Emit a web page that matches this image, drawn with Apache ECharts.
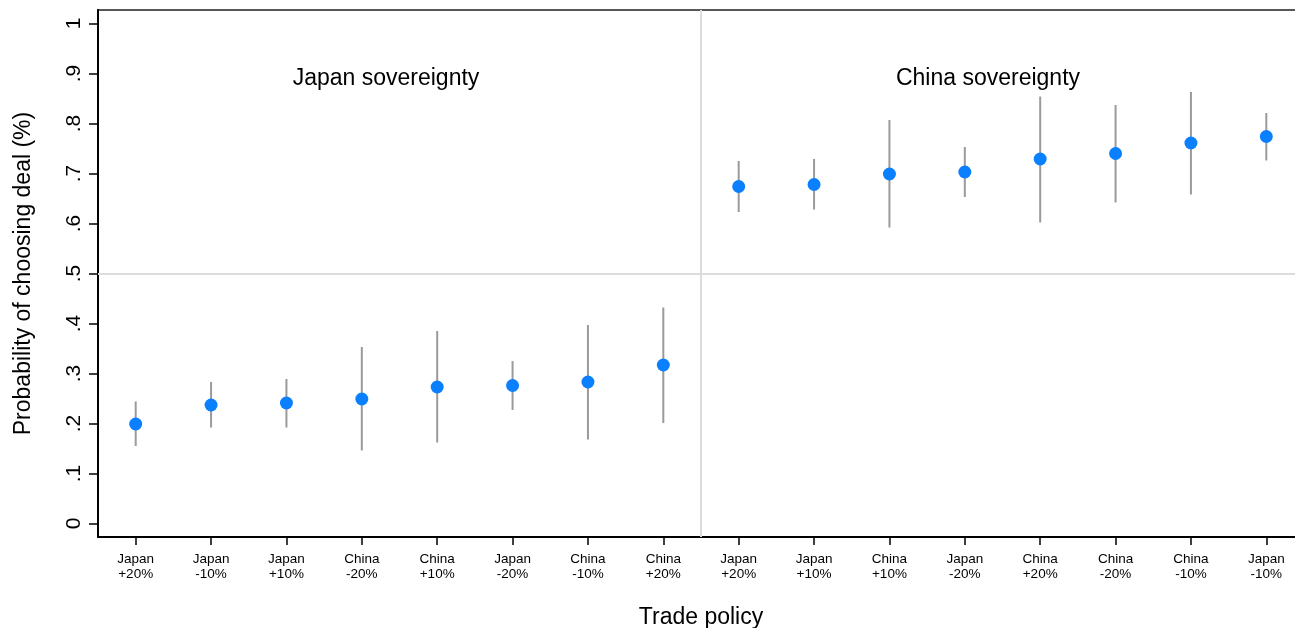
<!DOCTYPE html>
<html>
<head>
<meta charset="utf-8">
<script src="https://cdn.jsdelivr.net/npm/echarts@6/dist/echarts.min.js"></script>
<style>
html,body{margin:0;padding:0;background:#fff;}
#chart{width:1295px;height:628px;}
</style>
</head>
<body>
<div id="chart"></div>
<script>
const categories = [
  'Japan\n+20%','Japan\n-10%','Japan\n+10%','China\n-20%','China\n+10%','Japan\n-20%','China\n-10%','China\n+20%',
  'Japan\n+20%','Japan\n+10%','China\n+10%','Japan\n-20%','China\n+20%','China\n-20%','China\n-10%','Japan\n-10%'
];
const estimates = [0.199,0.237,0.241,0.249,0.273,0.276,0.283,0.317,
                   0.674,0.678,0.699,0.703,0.729,0.740,0.761,0.774];
const ciLow  = [0.155,0.192,0.192,0.146,0.162,0.227,0.168,0.201,
                0.623,0.628,0.592,0.653,0.602,0.642,0.658,0.726];
const ciHigh = [0.244,0.283,0.289,0.353,0.385,0.325,0.397,0.432,
                0.725,0.729,0.807,0.753,0.854,0.837,0.863,0.821];
const yTicks = [0,0.1,0.2,0.3,0.4,0.5,0.6,0.7,0.8,0.9,1];
const panelTitles = ['Japan sovereignty','China sovereignty'];
const refValue = 0.5;
const dividerIndex = 8;

const FONT = 'Liberation Sans, Arial, Helvetica, sans-serif';
const chart = echarts.init(document.getElementById('chart'));

const ciData = categories.map((c, i) => [i, ciLow[i], ciHigh[i]]);
const ptData = categories.map((c, i) => [i, estimates[i]]);

const option = {
  animation: false,
  backgroundColor: '#fff',
  title: [
    {text: panelTitles[0], left: 386, top: 62, textAlign: 'center',
     textStyle: {fontFamily: FONT, fontSize: 23, fontWeight: 'normal', color: '#000'}},
    {text: panelTitles[1], left: 988, top: 62, textAlign: 'center',
     textStyle: {fontFamily: FONT, fontSize: 23, fontWeight: 'normal', color: '#000'}}
  ],
  grid: {
    left: 98, right: -9, top: 10, bottom: 91,
    outerBoundsMode: 'none',
    containLabel: false,
    show: true, borderColor: '#222', borderWidth: 1.5
  },
  xAxis: {
    type: 'category',
    data: categories,
    boundaryGap: true,
    name: 'Trade policy',
    nameLocation: 'middle',
    nameGap: 69,
    nameTextStyle: {fontFamily: FONT, fontSize: 23, color: '#000'},
    axisLine: {show: true, onZero: false, lineStyle: {color: '#000', width: 2}},
    axisTick: {show: true, alignWithLabel: true, length: 8, lineStyle: {color: '#000', width: 1.5}},
    axisLabel: {show: true, interval: 0, fontFamily: FONT, fontSize: 13.5, color: '#000', lineHeight: 15, margin: 15},
    splitLine: {show: false}
  },
  yAxis: {
    type: 'value',
    min: -0.027,
    max: 1.027,
    name: 'Probability of choosing deal (%)',
    nameLocation: 'middle',
    nameGap: 63,
    nameTextStyle: {fontFamily: FONT, fontSize: 23, color: '#000'},
    axisLine: {show: true, lineStyle: {color: '#000', width: 2}},
    axisTick: {show: true, length: 9, customValues: yTicks, lineStyle: {color: '#000', width: 1.5}},
    axisLabel: {
      show: true, rotate: 90, customValues: yTicks, margin: 13,
      fontFamily: FONT, fontSize: 21, color: '#000',
      formatter: function (v) {
        if (Math.abs(v) < 1e-9) return '0';
        if (Math.abs(v - 1) < 1e-9) return '1';
        return '.' + Math.round(v * 10);
      }
    },
    splitLine: {show: false}
  },
  series: [
    {
      type: 'custom',
      data: [[dividerIndex]],
      silent: true,
      z: 1,
      renderItem: function (params, api) {
        const d = api.value(0);
        const a = api.coord([d - 1, 0]);
        const b = api.coord([d, 0]);
        const x = (a[0] + b[0]) / 2;
        const cs = params.coordSys;
        return {
          type: 'line',
          shape: {x1: x, y1: cs.y, x2: x, y2: cs.y + cs.height},
          style: {stroke: '#dcdcdc', lineWidth: 2}
        };
      },
      markLine: {
        silent: true,
        symbol: 'none',
        label: {show: false},
        lineStyle: {color: '#dcdcdc', width: 2, type: 'solid'},
        data: [{yAxis: refValue}]
      }
    },
    {
      type: 'custom',
      data: ciData,
      silent: true,
      z: 2,
      renderItem: function (params, api) {
        const x = api.value(0);
        const p1 = api.coord([x, api.value(1)]);
        const p2 = api.coord([x, api.value(2)]);
        return {
          type: 'line',
          shape: {x1: p1[0], y1: p1[1], x2: p2[0], y2: p2[1]},
          style: {stroke: '#9a9a9a', lineWidth: 2}
        };
      }
    },
    {
      type: 'scatter',
      data: ptData,
      symbol: 'circle',
      symbolSize: 13,
      z: 3,
      itemStyle: {color: '#0a80ff', opacity: 1}
    }
  ]
};
option.title[0].left = 381;
option.title[1].left = 983;
chart.setOption(option);
</script>
</body>
</html>
